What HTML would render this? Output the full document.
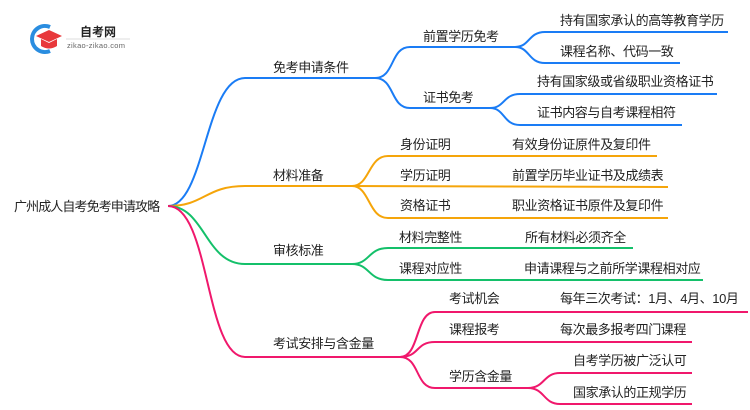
<!DOCTYPE html>
<html><head><meta charset="utf-8"><style>
html,body{margin:0;padding:0;background:#fff;}
svg{display:block;}
text{font-family:"Liberation Sans","Noto Sans CJK SC",sans-serif;font-size:13px;fill:#222;letter-spacing:-0.4px;}
</style></head><body>
<svg width="750" height="410" viewBox="0 0 750 410">
<g fill="none" stroke-width="2">
<g stroke="#1a7cf5">
<path d="M168 206 C205 206 205 78 245 78 L375 78"/>
<path d="M375 78 C395 78 390 47 410 47 L515 47"/>
<path d="M375 78 C395 78 390 108 410 108 L490 108"/>
<path d="M515 47 C530 47 528 32 545 32 L728 32"/>
<path d="M515 47 C530 47 528 63 545 63 L680 63"/>
<path d="M490 108 C505 108 503 94 520 94 L717 94"/>
<path d="M490 108 C505 108 503 125 520 125 L682 125"/>
</g>
<g stroke="#f5a50a">
<path d="M168 206 C205 206 205 186 245 186 L352 186"/>
<path d="M352 186 C370 186 368 156 388 156 L657 156"/>
<path d="M352 186 L668 187"/>
<path d="M352 186 C370 186 368 218 388 218 L668 218"/>
</g>
<g stroke="#14c06a">
<path d="M168 206 C205 206 205 264 245 264 L352 264"/>
<path d="M352 264 C370 264 368 248 388 248 L633 248"/>
<path d="M352 264 C370 264 368 280 388 280 L703 280"/>
</g>
<g stroke="#f0186c">
<path d="M168 206 C210 206 205 357 245 357 L400 357"/>
<path d="M400 357 C420 357 415 312 435 312 L748 312"/>
<path d="M400 357 C420 357 415 342 435 342 L692 342"/>
<path d="M400 357 C420 357 415 388 435 388 L528 388"/>
<path d="M528 388 C545 388 543 373 560 373 L692 373"/>
<path d="M528 388 C545 388 543 404 560 404 L692 404"/>
</g>
</g>
<g>
<path d="M50 27 A13 13 0 1 0 50 51" fill="none" stroke="#2a8de0" stroke-width="4"/>
<polygon points="36,36 49,30 62,36 49,42" fill="#e8383b"/>
<path d="M41 39 L41 46 Q49 51 57 46 L57 39 L49 43 Z" fill="#e8383b"/>
<text x="80" y="36" style="font-size:12px;font-weight:bold;letter-spacing:0">自考网</text>
<line x1="66" y1="39" x2="130" y2="39" stroke="#ddd" stroke-width="1"/>
<text x="67" y="48" style="font-size:7.5px;fill:#666;letter-spacing:0.3px">zikao-zikao.com</text>
</g>
<text x="14" y="211" style="font-size:13px;letter-spacing:-0.9px">广州成人自考免考申请攻略</text>
<text x="273" y="72">免考申请条件</text>
<text x="423" y="41">前置学历免考</text>
<text x="423" y="102">证书免考</text>
<text x="560" y="25">持有国家承认的高等教育学历</text>
<text x="560" y="56">课程名称、代码一致</text>
<text x="537" y="86">持有国家级或省级职业资格证书</text>
<text x="537" y="117">证书内容与自考课程相符</text>
<text x="273" y="180">材料准备</text>
<text x="400" y="149">身份证明</text>
<text x="512" y="149">有效身份证原件及复印件</text>
<text x="400" y="180">学历证明</text>
<text x="512" y="180">前置学历毕业证书及成绩表</text>
<text x="400" y="210">资格证书</text>
<text x="512" y="210">职业资格证书原件及复印件</text>
<text x="273" y="255">审核标准</text>
<text x="399" y="242">材料完整性</text>
<text x="525" y="242">所有材料必须齐全</text>
<text x="399" y="273">课程对应性</text>
<text x="524" y="273">申请课程与之前所学课程相对应</text>
<text x="273" y="348">考试安排与含金量</text>
<text x="449" y="303">考试机会</text>
<text x="560" y="303">每年三次考试：1月、4月、10月</text>
<text x="449" y="334">课程报考</text>
<text x="560" y="334">每次最多报考四门课程</text>
<text x="449" y="381">学历含金量</text>
<text x="573" y="365">自考学历被广泛认可</text>
<text x="573" y="397">国家承认的正规学历</text>
</svg>
</body></html>
